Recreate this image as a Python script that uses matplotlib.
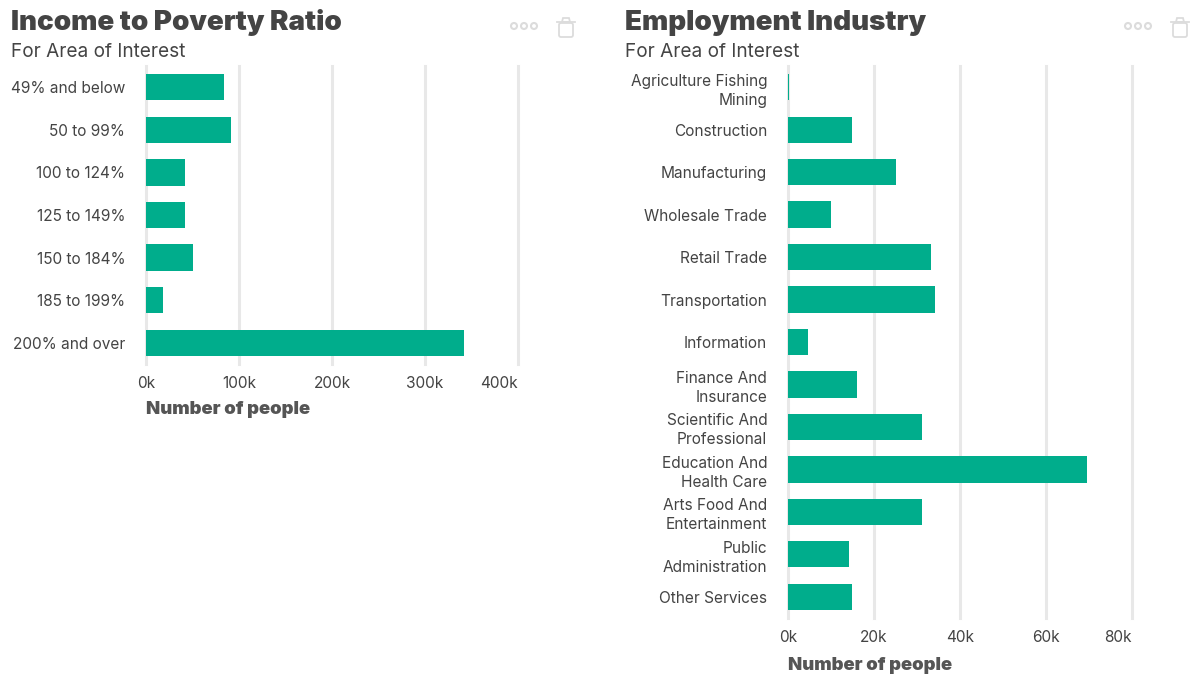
import matplotlib
matplotlib.use('Agg')
import matplotlib.pyplot as plt
from matplotlib.patches import Circle, FancyBboxPatch, Polygon

income_labels = ['49% and below', '50 to 99%', '100 to 124%', '125 to 149%',
                 '150 to 184%', '185 to 199%', '200% and over']
income_values = [84000, 91000, 42000, 42000, 51000, 18000, 342000]
income_ticks = [0, 100000, 200000, 300000, 400000]
income_tick_labels = ['0k', '100k', '200k', '300k', '400k']

industry_labels = ['Agriculture Fishing\nMining', 'Construction', 'Manufacturing',
                   'Wholesale Trade', 'Retail Trade', 'Transportation', 'Information',
                   'Finance And\nInsurance', 'Scientific And\nProfessional',
                   'Education And\nHealth Care', 'Arts Food And\nEntertainment',
                   'Public\nAdministration', 'Other Services']
industry_values = [300, 14800, 25000, 9900, 33200, 34200, 4700, 16100, 31200,
                   69500, 31200, 14200, 14800]
industry_ticks = [0, 20000, 40000, 60000, 80000]
industry_tick_labels = ['0k', '20k', '40k', '60k', '80k']

W, H = 1200, 682
GREEN = '#00ad8c'
GRID = '#e8e8e8'
TEXT = '#444444'
ICON = '#dcdcdc'

plt.rcParams['font.family'] = ['Inter', 'DejaVu Sans']

fig = plt.figure(figsize=(W / 100, H / 100), dpi=100)
overlay = fig.add_axes([0, 0, 1, 1])
overlay.set_xlim(0, W)
overlay.set_ylim(H, 0)
overlay.axis('off')


def draw_panel(box, xmax, labels, values, ticks, tick_labels, title, title_x, icon_x, xlabel_y):
    left, top, right, bottom = box
    ax = fig.add_axes([left / W, 1 - bottom / H, (right - left) / W, (bottom - top) / H])
    ypos = list(range(len(labels)))
    ax.set_axisbelow(True)
    ax.grid(axis='x', color=GRID, linewidth=2.2, clip_on=False)
    ax.barh(ypos, values, height=0.62, color=GREEN)
    ax.set_xlim(0, xmax)
    ax.set_ylim(len(labels) - 0.5, -0.5)
    ax.set_yticks(ypos, labels, fontsize=11.1, color=TEXT, linespacing=1.33)
    ax.set_xticks(ticks, tick_labels, fontsize=11.1, color=TEXT)
    ax.tick_params(axis='both', length=0)
    ax.tick_params(axis='y', pad=15)
    ax.tick_params(axis='x', pad=9)
    for lab in ax.get_yticklabels():
        lab.set_multialignment('right')
    # last tick label is kept inside the plot, it ends at the axis edge
    ax.get_xticklabels()[-1].set_ha('right')
    for side in ax.spines.values():
        side.set_visible(False)

    overlay.text(title_x, 30, title, fontsize=20, fontweight='black', color=TEXT, va='baseline')
    overlay.text(title_x, 57, 'For Area of Interest', fontsize=13.7, color=TEXT, va='baseline')
    overlay.text(left, xlabel_y, 'Number of people', fontsize=13.3, fontweight='black',
                 color='#555555', va='center')

    # menu dots and trash icon
    for dx in (0, 10, 20):
        overlay.add_patch(Circle((icon_x + dx, 26), 3, fill=False, ec=ICON, lw=1.5))
    tx = icon_x + 45
    overlay.add_patch(FancyBboxPatch((tx, 23), 14, 14, boxstyle='round,pad=0,rounding_size=2',
                                     fill=False, ec=ICON, lw=1.3))
    overlay.plot([tx - 2, tx + 16], [22, 22], color=ICON, lw=1.3)
    overlay.add_patch(Polygon([(tx + 3, 22), (tx + 4, 18), (tx + 10, 18), (tx + 11, 22)],
                              fill=False, ec=ICON, lw=1.3))


draw_panel((146, 66, 518, 364), 400000, income_labels, income_values, income_ticks,
           income_tick_labels, 'Income to Poverty Ratio', 11, 514, 410)
draw_panel((788, 66, 1132, 618), 80000, industry_labels, industry_values, industry_ticks,
           industry_tick_labels, 'Employment Industry', 625, 1128, 665)

fig.savefig('out.png', dpi=100)
